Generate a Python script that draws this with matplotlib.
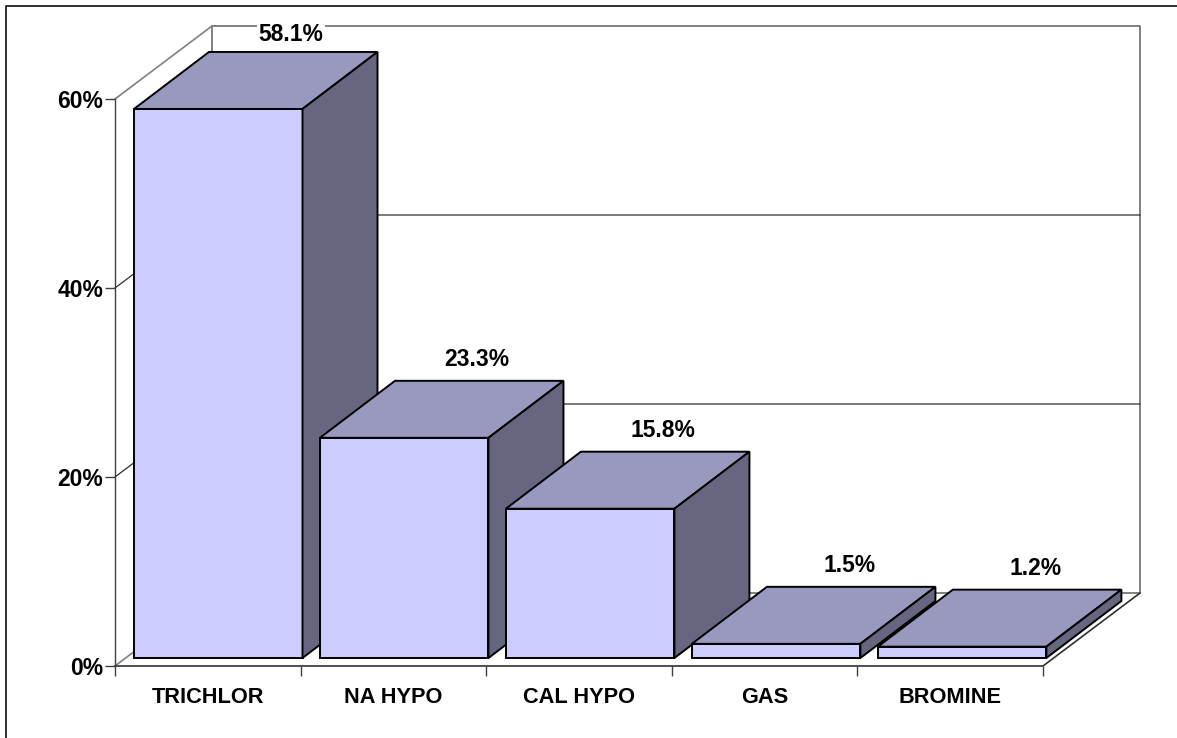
import matplotlib
matplotlib.use('Agg')
import matplotlib.pyplot as plt
from matplotlib.patches import Polygon

plt.rcParams['font.family'] = ['Liberation Sans', 'DejaVu Sans']

categories = ['TRICHLOR', 'NA HYPO', 'CAL HYPO', 'GAS', 'BROMINE']
shares = [58.1, 23.3, 15.8, 1.5, 1.2]
share_labels = ['58.1%', '23.3%', '15.8%', '1.5%', '1.2%']
y_ticks = [0, 20, 40, 60]
y_tick_labels = ['0%', '20%', '40%', '60%']

W, H = 1177, 738
FRONT_L, FRONT_R, FLOOR_Y, TOP_Y = 115, 1043, 666, 99
PX_X = (FRONT_R - FRONT_L) / 5.0
PX_Y = (FLOOR_Y - TOP_Y) / 60.0
PT = 0.72  # points per pixel at dpi 100

# depth of the whole box and of one bar, in data units
WALL_DX, WALL_DY = 97 / PX_X, 73 / PX_Y
BAR_DX, BAR_DY = 75 / PX_X, 57 / PX_Y
BAR_W = 168.5 / PX_X
BAR_X0 = 19 / PX_X
BAR_Y0 = 8 / PX_Y
BAR_STEP = 1.002

GRID = '#808080'
FRONT = '#ccccff'
TOP = '#9999bf'
SIDE = '#666680'

fig = plt.figure(figsize=(W / 100, H / 100), dpi=100)
fig.patch.set_facecolor('white')
ax = fig.add_axes([FRONT_L / W, 1 - FLOOR_Y / H, (FRONT_R - FRONT_L) / W, (FLOOR_Y - TOP_Y) / H])
ax.set_xlim(0, 5)
ax.set_ylim(0, 60)
ax.patch.set_visible(False)
for s in ['top', 'right', 'bottom']:
    ax.spines[s].set_visible(False)
ax.spines['left'].set_color('#404040')
ax.spines['left'].set_linewidth(1)

# outer frame, only the top and left edges are in the picture
fig.add_artist(plt.Line2D([5.5 / W, 5.5 / W, 1], [0, 1 - 6 / H, 1 - 6 / H], color='#303030', lw=1.4))

# back wall and left wall
ax.plot([WALL_DX, WALL_DX, 5 + WALL_DX, 5 + WALL_DX, WALL_DX],
        [WALL_DY, 60 + WALL_DY, 60 + WALL_DY, WALL_DY, WALL_DY],
        color=GRID, lw=1.4, clip_on=False, zorder=1)
ax.plot([0, WALL_DX], [60, 60 + WALL_DY], color=GRID, lw=1.2, clip_on=False, zorder=1)
ax.plot([0, WALL_DX], [0, WALL_DY], color=GRID, lw=1.2, clip_on=False, zorder=1)
for t in y_ticks[1:-1]:
    ax.plot([0, WALL_DX, 5 + WALL_DX], [t, t + WALL_DY, t + WALL_DY], color='#303030', lw=0.9,
            clip_on=False, zorder=1)

# floor front and right edge
ax.plot([0, 5, 5 + WALL_DX], [0, 0, WALL_DY], color='#303030', lw=1.2, clip_on=False, zorder=1)

# bars, drawn left to right so the later ones sit on top
for i, v in enumerate(shares):
    x0 = i * BAR_STEP + BAR_X0
    x1 = x0 + BAR_W
    y0 = BAR_Y0
    y1 = y0 + v
    ax.add_patch(Polygon([(x0, y0), (x1, y0), (x1, y1), (x0, y1)], facecolor=FRONT,
                         edgecolor='black', lw=1.4, joinstyle='miter', clip_on=False, zorder=3))
    ax.add_patch(Polygon([(x0, y1), (x1, y1), (x1 + BAR_DX, y1 + BAR_DY), (x0 + BAR_DX, y1 + BAR_DY)],
                         facecolor=TOP, edgecolor='black', lw=1.4, joinstyle='miter', clip_on=False, zorder=3))
    ax.add_patch(Polygon([(x1, y0), (x1 + BAR_DX, y0 + BAR_DY), (x1 + BAR_DX, y1 + BAR_DY), (x1, y1)],
                         facecolor=SIDE, edgecolor='black', lw=1.4, joinstyle='miter', clip_on=False, zorder=3))
    dy = 74 if i == 0 else 78
    ax.annotate(share_labels[i], xy=((x0 + x1) / 2, y1), xytext=(73 * PT, dy * PT),
                textcoords='offset points', ha='center', va='center', fontsize=16.5,
                fontweight='bold', zorder=4,
                bbox=dict(facecolor='white', edgecolor='none', pad=1) if i == 0 else None,
                annotation_clip=False)

ax.set_yticks(y_ticks)
ax.set_yticklabels(y_tick_labels, fontsize=16.5, fontweight='bold')
ax.tick_params(axis='y', length=7, width=1, color='#404040', pad=1.5)

ax.set_xticks(range(6))
ax.set_xticklabels([])
ax.tick_params(axis='x', length=7, width=1, color='#404040')
ax.set_xticks([i + 0.5 for i in range(5)], minor=True)
ax.set_xticklabels(categories, minor=True, fontsize=15.7, fontweight='bold')
ax.tick_params(axis='x', which='minor', length=0, pad=15)

fig.savefig('out.png', dpi=100)
